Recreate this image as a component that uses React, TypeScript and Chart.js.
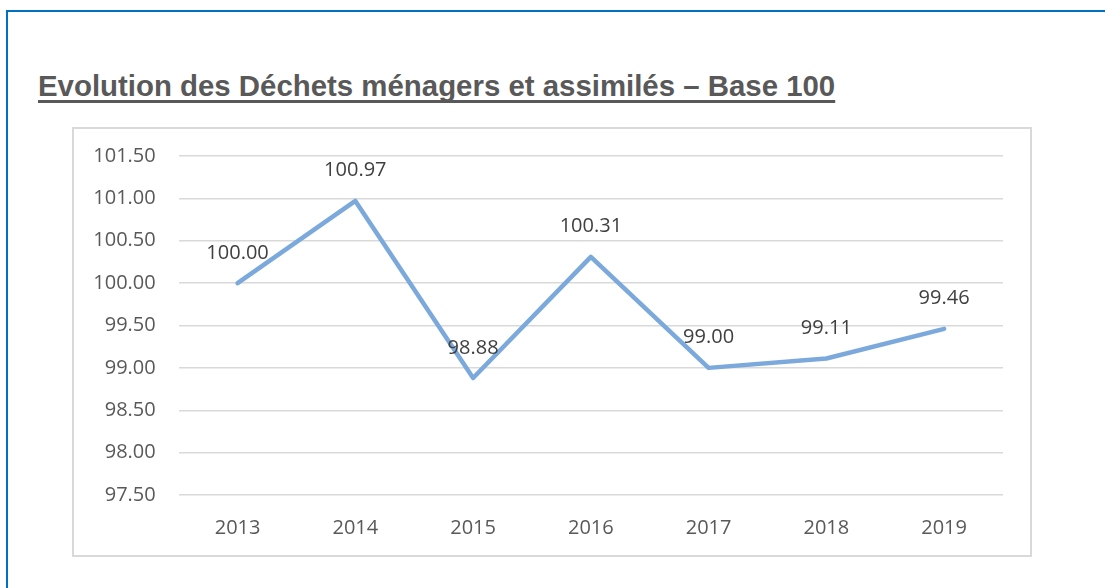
import React, { useEffect, useRef } from "react";
import { Chart, registerables } from "chart.js";

Chart.register(...registerables);

const TITLE = "Evolution des Déchets ménagers et assimilés – Base 100";
const CATEGORIES = ["2013", "2014", "2015", "2016", "2017", "2018", "2019"];
const VALUES = [100.0, 100.97, 98.88, 100.31, 99.0, 99.11, 99.46];
const Y_MIN = 97.5;
const Y_MAX = 101.5;
const Y_STEP = 0.5;

const FONT = "'Open Sans', 'Noto Sans', sans-serif";

const dataLabelPlugin = {
  id: "dataLabels",
  afterDatasetsDraw(chart: any) {
    const ctx = chart.ctx;
    const meta = chart.getDatasetMeta(0);
    ctx.save();
    ctx.font = `20px ${FONT}`;
    ctx.fillStyle = "#404040";
    ctx.textAlign = "center";
    ctx.textBaseline = "alphabetic";
    meta.data.forEach((pt: any, i: number) => {
      ctx.fillText(VALUES[i].toFixed(2), pt.x, pt.y - 24.5);
    });
    ctx.restore();
  },
};

export default function App() {
  const canvasRef = useRef<HTMLCanvasElement | null>(null);

  useEffect(() => {
    if (!canvasRef.current) return;
    const chart = new Chart(canvasRef.current, {
      type: "line",
      data: {
        labels: CATEGORIES,
        datasets: [
          {
            data: VALUES,
            borderColor: "#7BA9DC",
            borderWidth: 4.5,
            borderCapStyle: "round",
            borderJoinStyle: "round",
            pointRadius: 0,
            tension: 0,
            fill: false,
          },
        ],
      },
      options: {
        animation: false,
        responsive: false,
        maintainAspectRatio: false,
        layout: { padding: { top: 28, right: 28, bottom: 0, left: 0 } },
        plugins: {
          legend: { display: false },
          tooltip: { enabled: false },
          title: { display: false },
        },
        scales: {
          x: {
            offset: true,
            grid: { display: false, drawTicks: false },
            border: { display: false },
            ticks: {
              color: "#595959",
              font: { family: FONT, size: 20 },
              padding: 21,
              maxRotation: 0,
            },
            afterFit(scale: any) {
              scale.height = 61;
              scale.paddingLeft = 0;
              scale.paddingRight = 0;
            },
          },
          y: {
            min: Y_MIN,
            max: Y_MAX,
            grid: { color: "#D9D9D9", lineWidth: 1.5, drawTicks: false },
            border: { display: false },
            ticks: {
              stepSize: Y_STEP,
              color: "#595959",
              font: { family: FONT, size: 20 },
              padding: 23,
              callback: (v: any) => Number(v).toFixed(2),
            },
            afterFit(scale: any) {
              scale.width = 105.7;
              scale.paddingTop = 0;
              scale.paddingBottom = 0;
            },
          },
        },
      },
      plugins: [dataLabelPlugin],
    });
    return () => chart.destroy();
  }, []);

  return (
    <div
      style={{
        position: "absolute",
        left: 0,
        top: 0,
        width: 1105,
        height: 588,
        overflow: "hidden",
        background: "#FFFFFF",
      }}
    >
      <div
        style={{
          position: "absolute",
          left: 6,
          top: 10,
          width: 1200,
          height: 700,
          border: "2px solid #0070C0",
          boxSizing: "border-box",
        }}
      />
      <div
        style={{
          position: "absolute",
          left: 38,
          top: 70,
          fontFamily: "'Liberation Sans', Arial, sans-serif",
          fontWeight: "bold",
          fontSize: 29.4,
          lineHeight: "32px",
          color: "#595959",
          whiteSpace: "nowrap",
          textDecoration: "underline",
          textDecorationThickness: "3px",
          textUnderlineOffset: "4px",
          textDecorationSkipInk: "none",
        }}
      >
        {TITLE}
      </div>
      <div
        style={{
          position: "absolute",
          left: 72,
          top: 127,
          width: 960,
          height: 430,
          border: "2px solid #D9D9D9",
          boxSizing: "border-box",
        }}
      />
      <canvas
        ref={canvasRef}
        width={958}
        height={428}
        style={{ position: "absolute", left: 73, top: 128, width: 958, height: 428 }}
      />
    </div>
  );
}
